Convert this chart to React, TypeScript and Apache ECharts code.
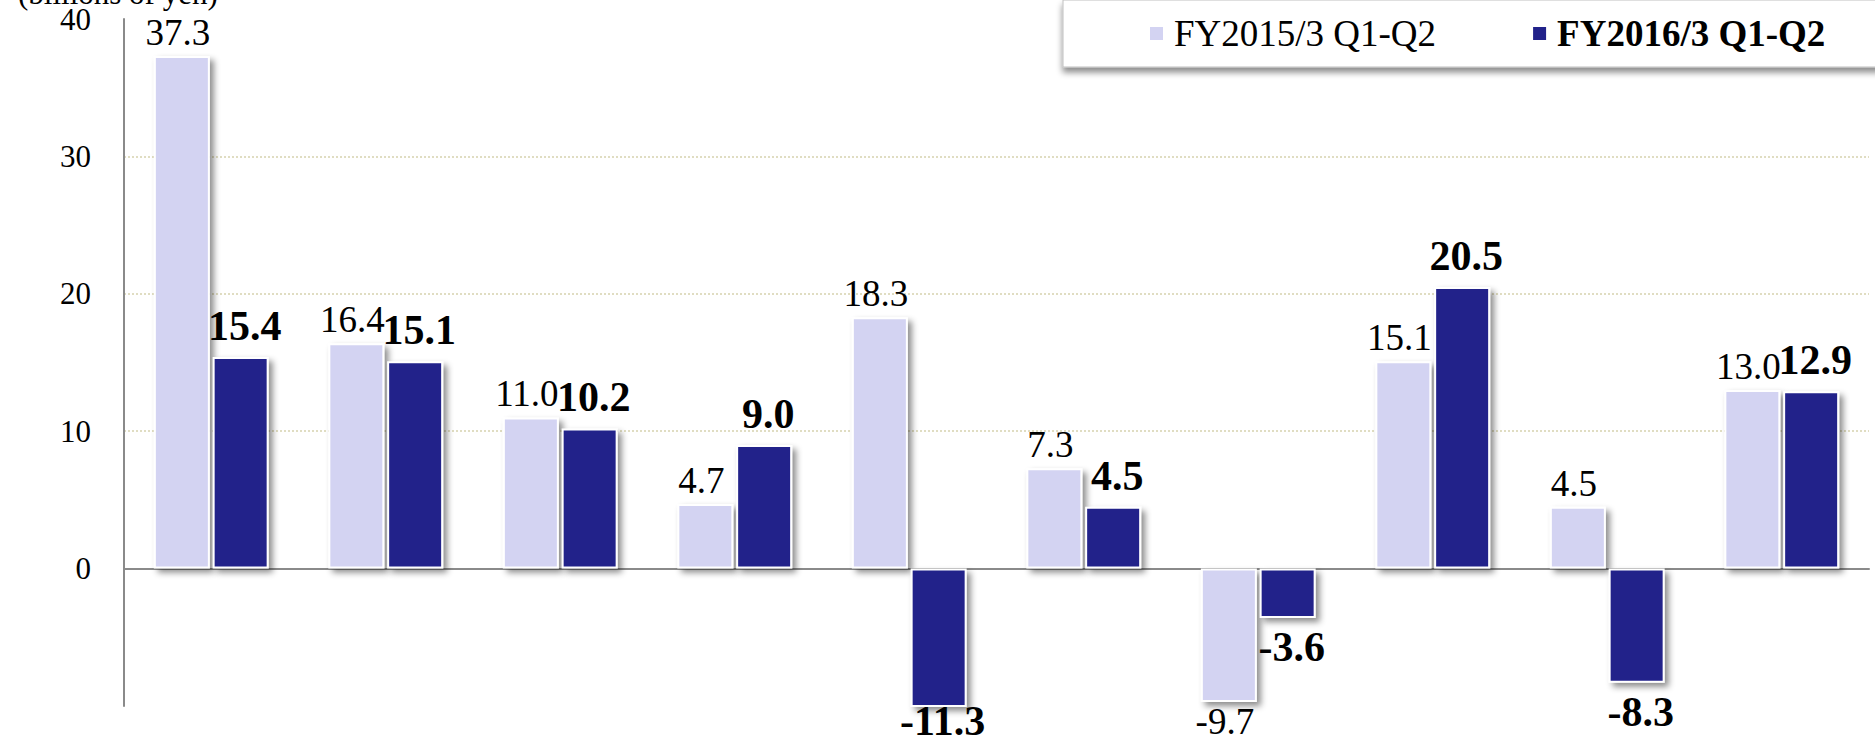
import React, { useEffect, useRef } from "react";
import * as echarts from "echarts";

const categories = ["1", "2", "3", "4", "5", "6", "7", "8", "9", "10"];
const seriesNames = ["FY2015/3 Q1-Q2", "FY2016/3 Q1-Q2"];
const fy2015 = [37.3, 16.4, 11.0, 4.7, 18.3, 7.3, -9.7, 15.1, 4.5, 13.0];
const fy2016 = [15.4, 15.1, 10.2, 9.0, -11.3, 4.5, -3.6, 20.5, -8.3, 12.9];
const yTicks = [-10, 0, 10, 20, 30, 40];
const unitLabel = "(billions of yen)";

const SERIF = "'Times New Roman', 'Liberation Serif', serif";
const LIGHT = "#d3d3f2";
const DARK = "#21228a";
const W = 1875;
const H = 744;
const GRID_TOP = 19;
const GRID_BOTTOM = 38;

export default function App() {
  const ref = useRef<HTMLDivElement>(null);

  useEffect(() => {
    document.body.style.margin = "0";
    if (!ref.current) return;
    const chart = echarts.init(ref.current, undefined, { renderer: "svg" });

    const yMin = yTicks[0];
    const yMax = yTicks[yTicks.length - 1];

    const barStyle = (color: string) => ({
      color,
      borderColor: "#ffffff",
      borderWidth: 2,
      shadowColor: "rgba(0,0,0,0.45)",
      shadowBlur: 6,
      shadowOffsetX: 4,
      shadowOffsetY: 4,
    });

    const mkData = (vals: number[], posDist: number, negDist: number, dx: number) =>
      vals.map((v) => ({
        value: v,
        label: {
          position: v < 0 ? "bottom" : "top",
          distance: v < 0 ? negDist : posDist,
          // label of a bar clipped at the axis minimum is kept inside the picture
          offset: [dx, v < yMin ? -15 : 0],
        },
      }));

    chart.setOption({
      animation: false,
      backgroundColor: "#ffffff",
      grid: { left: 124, right: 6, top: GRID_TOP, bottom: GRID_BOTTOM, containLabel: false },
      legend: {
        left: 1063,
        top: 0,
        width: 900,
        orient: "horizontal",
        padding: [15, 90, 15, 87],
        itemGap: 97,
        itemWidth: 13,
        itemHeight: 13,
        icon: "rect",
        backgroundColor: "#ffffff",
        borderColor: "#bfbfbf",
        borderWidth: 1,
        shadowColor: "rgba(0,0,0,0.45)",
        shadowBlur: 6,
        shadowOffsetY: 5,
        itemStyle: { borderWidth: 0, shadowBlur: 0, shadowOffsetX: 0, shadowOffsetY: 0 },
        textStyle: {
          fontFamily: SERIF,
          fontSize: 37,
          color: "#000000",
          padding: [0, 0, 0, 6],
        },
        data: [
          { name: seriesNames[0] },
          { name: seriesNames[1], textStyle: { fontWeight: "bold" } },
        ],
      },
      graphic: [
        {
          type: "text",
          x: 18,
          y: 9,
          style: {
            text: unitLabel,
            fontFamily: SERIF,
            fontSize: 31,
            fill: "#000000",
            verticalAlign: "bottom",
          },
        },
      ],
      xAxis: {
        type: "category",
        data: categories,
        axisLine: { show: true, onZero: true, lineStyle: { color: "#8a8a8a", width: 2 } },
        axisTick: { show: false },
        axisLabel: { show: false },
        splitLine: { show: false },
      },
      yAxis: {
        type: "value",
        min: yMin,
        max: yMax,
        interval: 10,
        axisLine: { show: true, lineStyle: { color: "#8a8a8a", width: 2 } },
        axisTick: { show: false },
        axisLabel: {
          margin: 33,
          fontFamily: SERIF,
          fontSize: 31,
          color: "#000000",
          formatter: (v: number) => (v < 0 ? "" : String(v)),
        },
        splitLine: {
          show: true,
          showMinLine: false,
          showMaxLine: false,
          lineStyle: { color: "#d6d2ae", type: [2, 2], width: 1.5 },
        },
      },
      series: [
        {
          name: seriesNames[0],
          type: "bar",
          clip: true,
          barWidth: 56,
          barGap: "5%",
          itemStyle: barStyle(LIGHT),
          label: {
            show: true,
            fontFamily: SERIF,
            fontSize: 37,
            color: "#000000",
            formatter: (p: any) => Number(p.value).toFixed(1),
          },
          data: mkData(fy2015, 5, 1, -4),
        },
        {
          name: seriesNames[1],
          type: "bar",
          clip: true,
          barWidth: 56,
          barGap: "5%",
          itemStyle: barStyle(DARK),
          label: {
            show: true,
            fontFamily: SERIF,
            fontSize: 42,
            fontWeight: "bold",
            color: "#000000",
            formatter: (p: any) => Number(p.value).toFixed(1),
          },
          data: mkData(fy2016, 10, 8, 4),
        },
      ],
    });

    return () => chart.dispose();
  }, []);

  return <div ref={ref} style={{ width: W, height: H }} />;
}
